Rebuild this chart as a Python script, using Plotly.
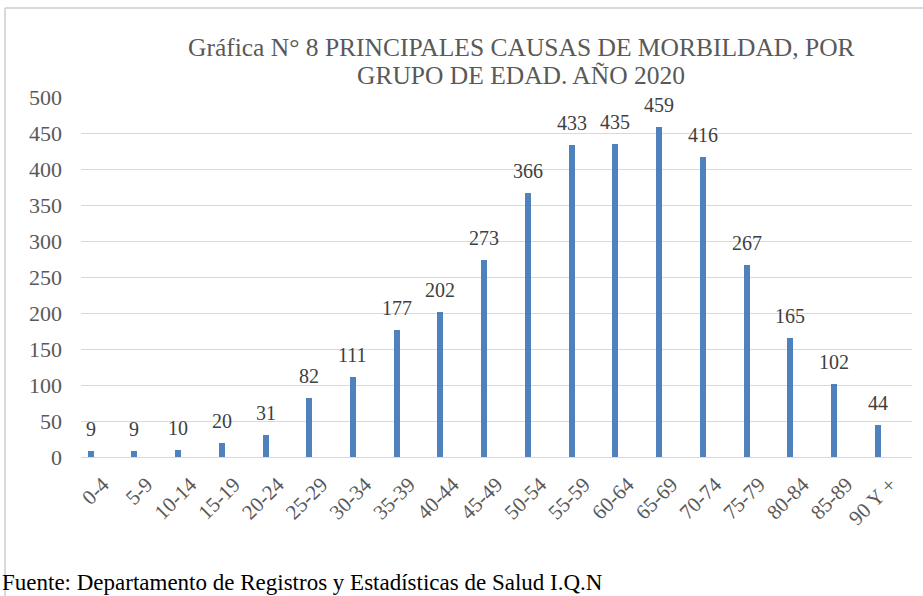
import plotly.graph_objects as go

categories = ["0-4", "5-9", "10-14", "15-19", "20-24", "25-29", "30-34", "35-39", "40-44",
              "45-49", "50-54", "55-59", "60-64", "65-69", "70-74", "75-79", "80-84", "85-89", "90 Y +"]
values = [9, 9, 10, 20, 31, 82, 111, 177, 202, 273, 366, 433, 435, 459, 416, 267, 165, 102, 44]
y_ticks = [0, 50, 100, 150, 200, 250, 300, 350, 400, 450, 500]

title_line1 = "Gráfica N° 8 PRINCIPALES CAUSAS DE MORBILDAD, POR"
title_line2 = "GRUPO DE EDAD. AÑO 2020"
source_text = "Fuente: Departamento de Registros y Estadísticas de Salud I.Q.N"

W, H = 923, 596
L, R, T, B = 81, 11, 97, 139
plot_w = W - L - R
plot_h = H - T - B
band = plot_w / len(categories)
bar_shift = -12.3  # px, bar centre relative to category centre

def px_x(px):
    return (px - L) / plot_w

def px_y(py):
    return (H - B - py) / plot_h

FONT = "'Liberation Serif', 'Times New Roman', Times, serif"
GRAY = "#595959"
BLUE = "#4F81BD"

fig = go.Figure()
fig.add_trace(go.Bar(
    x=categories,
    y=values,
    marker=dict(color=BLUE, line=dict(width=0)),
    width=6 / band,
    offset=(bar_shift - 3) / band,
    cliponaxis=False,
    hoverinfo="x+y",
))

# data labels
for c, v in zip(categories, values):
    fig.add_annotation(
        x=c, y=v, xref="x", yref="y", text=str(v), showarrow=False,
        xanchor="center", yanchor="middle", xshift=bar_shift, yshift=22,
        font=dict(family=FONT, size=20, color="#404040"),
    )

fig.update_layout(
    width=W, height=H,
    margin=dict(l=L, r=R, t=T, b=B),
    paper_bgcolor="white",
    plot_bgcolor="white",
    showlegend=False,
    font=dict(family=FONT, color=GRAY),
    xaxis=dict(
        type="category",
        tickangle=-45,
        tickfont=dict(family=FONT, size=21, color=GRAY),
        showgrid=False,
        showline=True, linecolor="#d9d9d9", linewidth=1,
        ticks="",
        ticklabelstandoff=6,
    ),
    yaxis=dict(
        range=[0, 500],
        tickvals=y_ticks,
        tickfont=dict(family=FONT, size=22, color=GRAY),
        showgrid=True, gridcolor="#d9d9d9", gridwidth=1,
        zeroline=False,
        showline=False,
        ticks="",
        ticklabelstandoff=18,
    ),
    bargap=0,
)

# title (two lines)
fig.add_annotation(
    text=title_line1, xref="paper", yref="paper",
    x=px_x(521), y=px_y(47), xanchor="center", yanchor="middle",
    showarrow=False, font=dict(family=FONT, size=25.5, color=GRAY),
)
fig.add_annotation(
    text=title_line2, xref="paper", yref="paper",
    x=px_x(521), y=px_y(75), xanchor="center", yanchor="middle",
    showarrow=False, font=dict(family=FONT, size=25.5, color=GRAY),
)

# chart frame (left and top edges)
fig.add_shape(type="line", xref="paper", yref="paper",
              x0=px_x(5), x1=px_x(5), y0=px_y(596), y1=px_y(8),
              line=dict(color="#d9d9d9", width=2))
fig.add_shape(type="line", xref="paper", yref="paper",
              x0=px_x(5), x1=px_x(930), y0=px_y(8), y1=px_y(8),
              line=dict(color="#d9d9d9", width=2))

fig.add_annotation(
    text=source_text, xref="paper", yref="paper",
    x=px_x(0), y=px_y(597), xanchor="left", yanchor="bottom",
    showarrow=False, font=dict(family=FONT, size=23, color="black"),
)

fig.write_html("out.html", config={"displayModeBar": False},
               post_script="document.body.style.margin='0';")
